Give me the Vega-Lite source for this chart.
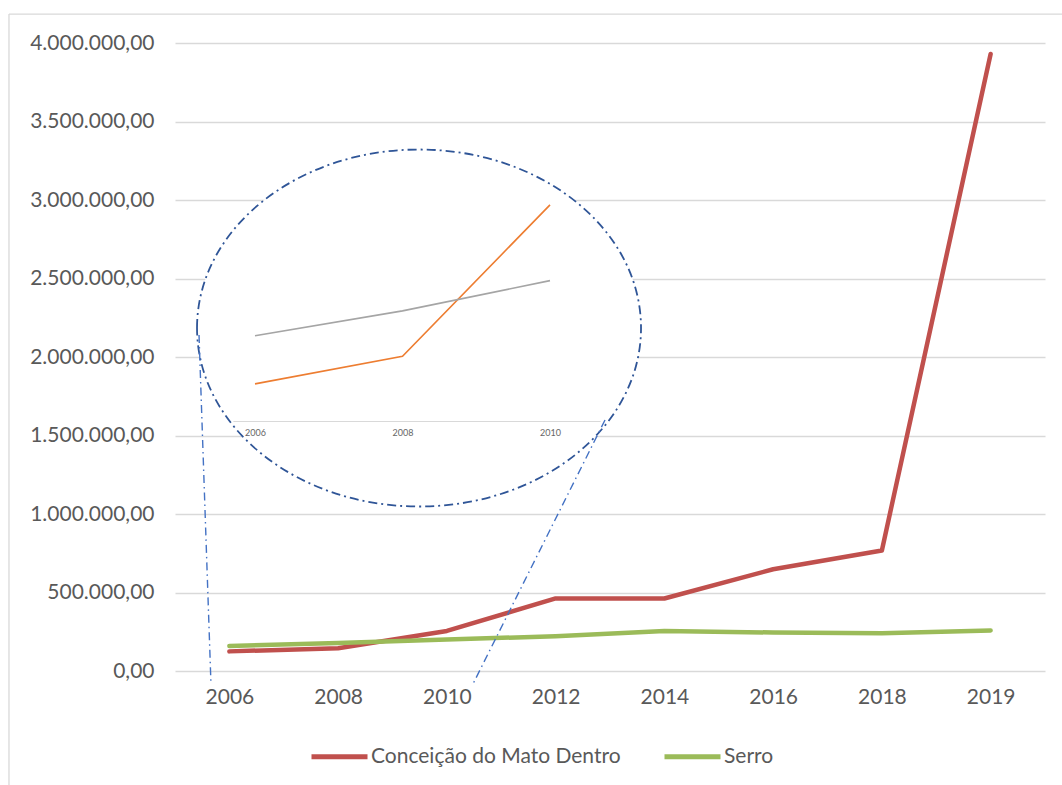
{
  "$schema": "https://vega.github.io/schema/vega-lite/v6.json",
  "width": 870,
  "height": 628,
  "autosize": {"type": "none"},
  "padding": {"left": 175, "top": 43, "right": 17, "bottom": 114},
  "background": "white",
  "config": {
    "font": "Lato",
    "view": {"stroke": null},
    "locale": {"number": {"decimal": ",", "thousands": ".", "grouping": [3], "currency": ["R$", ""]}},
    "axis": {"labelFontSize": 21, "labelColor": "#595959", "ticks": false, "domain": false, "labelFont": "Lato"},
    "legend": {"labelFont": "Lato"}
  },
  "datasets": {
    "series": [
      {"year": 2006, "city": "Conceição do Mato Dentro", "value": 125000},
      {"year": 2008, "city": "Conceição do Mato Dentro", "value": 145000},
      {"year": 2010, "city": "Conceição do Mato Dentro", "value": 255000},
      {"year": 2012, "city": "Conceição do Mato Dentro", "value": 462000},
      {"year": 2014, "city": "Conceição do Mato Dentro", "value": 462000},
      {"year": 2016, "city": "Conceição do Mato Dentro", "value": 648000},
      {"year": 2018, "city": "Conceição do Mato Dentro", "value": 768000},
      {"year": 2019, "city": "Conceição do Mato Dentro", "value": 3930000},
      {"year": 2006, "city": "Serro", "value": 160000},
      {"year": 2008, "city": "Serro", "value": 178000},
      {"year": 2010, "city": "Serro", "value": 200000},
      {"year": 2012, "city": "Serro", "value": 222000},
      {"year": 2014, "city": "Serro", "value": 255000},
      {"year": 2016, "city": "Serro", "value": 245000},
      {"year": 2018, "city": "Serro", "value": 240000},
      {"year": 2019, "city": "Serro", "value": 258000}
    ],
    "ellipse": [
      {"x": 2008.224, "y": 165580}
    ],
    "connectors": [
      {"x": 2005.241, "y": 160490, "x2": 2005.403, "y2": -92960},
      {"x": 2010.746, "y": 98770, "x2": 2008.942, "y2": -94410}
    ],
    "frame": [
      {"x": 2002.664, "y": 393600, "x2": 2002.664, "y2": -177200},
      {"x": 2002.664, "y": 393600, "x2": 2017.05, "y2": 393600}
    ]
  },
  "layer": [
    {
      "data": {"name": "series"},
      "mark": {"type": "line", "strokeWidth": 4.5, "strokeCap": "round", "strokeJoin": "round"},
      "encoding": {
        "x": {"field": "year", "type": "ordinal", "scale": {"type": "point", "padding": 0.5},
              "axis": {"title": null, "labelAngle": 0, "grid": false, "labelPadding": 15}},
        "y": {"field": "value", "type": "quantitative", "scale": {"domain": [0, 4000000], "nice": false},
              "axis": {"title": null, "values": [0, 500000, 1000000, 1500000, 2000000, 2500000, 3000000, 3500000, 4000000],
                       "format": ",.2f", "grid": true, "gridColor": "#D9D9D9", "gridWidth": 1.3, "labelPadding": 21}},
        "color": {"field": "city", "type": "nominal",
                  "scale": {"domain": ["Conceição do Mato Dentro", "Serro"], "range": ["#C0504D", "#9BBB59"]},
                  "legend": {"title": null, "orient": "none", "direction": "horizontal", "legendX": 134, "legendY": 683,
                             "symbolType": "stroke", "symbolStrokeWidth": 5, "symbolSize": 3136, "labelLimit": 500,
                             "labelFontSize": 21, "labelColor": "#595959", "columnPadding": 33, "labelOffset": 1}}
      }
    },
    {
      "layer": [
        {
          "data": {"name": "frame"},
          "mark": {"type": "rule", "stroke": "#D9D9D9", "strokeWidth": 1.3},
          "encoding": {
            "x": {"field": "x", "type": "quantitative",
                  "scale": {"domain": [2005.7, 2010.68], "range": [57.875, 425.15], "nice": false, "zero": false}},
            "y": {"field": "y", "type": "quantitative",
                  "scale": {"domain": [100000, 260000], "range": [375.3, 155], "nice": false, "zero": false},
                  "axis": null},
            "x2": {"field": "x2"},
            "y2": {"field": "y2"}
          }
        },
        {
          "data": {"name": "ellipse"},
          "mark": {"type": "point",
                   "shape": "M-1,0C-1,-0.444,-0.552,-0.804,0,-0.804C0.552,-0.804,1,-0.444,1,0C1,0.444,0.552,0.804,0,0.804C-0.552,0.804,-1,0.444,-1,0Z",
                   "size": 197136, "filled": false, "fill": "white", "fillOpacity": 1, "opacity": 1,
                   "stroke": "#2F5597", "strokeWidth": 1.8, "strokeDash": [9, 4, 2, 4]},
          "encoding": {
            "x": {"field": "x", "type": "quantitative",
                  "axis": {"title": null, "orient": "bottom", "offset": -250, "values": [2006, 2008, 2010], "format": "d",
                           "domain": true, "domainColor": "#D9D9D9", "domainWidth": 1.2, "ticks": false, "grid": false,
                           "labelFontSize": 9, "labelColor": "#666666", "labelPadding": 7, "zindex": 1}},
            "y": {"field": "y", "type": "quantitative", "axis": null}
          }
        },
        {
          "data": {"name": "series"},
          "transform": [{"filter": "datum.year <= 2010"}],
          "mark": {"type": "line", "strokeWidth": 1.6},
          "encoding": {
            "x": {"field": "year", "type": "quantitative"},
            "y": {"field": "value", "type": "quantitative", "axis": null},
            "color": {"field": "city", "type": "nominal",
                      "scale": {"domain": ["Conceição do Mato Dentro", "Serro"], "range": ["#ED7D31", "#A5A5A5"]},
                      "legend": null}
          }
        },
        {
          "data": {"name": "connectors"},
          "mark": {"type": "rule", "stroke": "#4472C4", "strokeWidth": 1.4, "strokeDash": [8, 4, 1.5, 4]},
          "encoding": {
            "x": {"field": "x", "type": "quantitative"},
            "y": {"field": "y", "type": "quantitative", "axis": null},
            "x2": {"field": "x2"},
            "y2": {"field": "y2"}
          }
        }
      ]
    }
  ],
  "resolve": {
    "scale": {"x": "independent", "y": "independent", "color": "independent"},
    "axis": {"x": "independent", "y": "independent"}
  }
}
